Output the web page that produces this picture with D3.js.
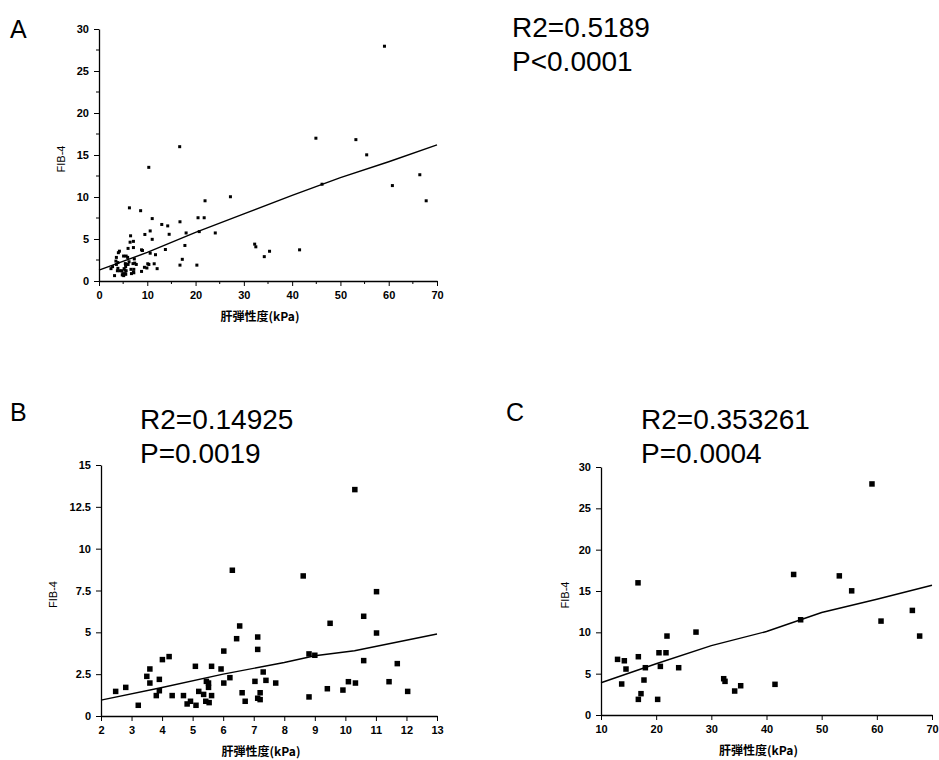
<!DOCTYPE html>
<html>
<head>
<meta charset="utf-8">
<script src="https://cdn.jsdelivr.net/npm/d3@7"></script>
<style>
    body { margin: 0; background: #fff; }
    text { font-family: "Liberation Sans", Arial, sans-serif; }
    .tick text { font-size: 11px; font-weight: bold; }
    .cjk { font-family: "Noto Sans CJK JP", sans-serif; font-size: 12px; font-weight: bold; }
</style>
</head>
<body>
<div class="container"></div>
<script>
// panel B: low stiffness group
const bKpa = [2.48, 2.81, 3.22, 3.50, 3.60, 3.60, 3.81, 3.91, 3.91, 4.01, 4.23, 4.33, 4.70, 4.82, 4.93,
    5.09, 5.11, 5.20, 5.36, 5.43, 5.45, 5.52, 5.52, 5.54, 5.62, 5.62, 5.93, 6.02, 6.02, 6.22,
    6.30, 6.44, 6.54, 6.62, 6.72, 7.04, 7.13, 7.13, 7.13, 7.21, 7.21, 7.31, 7.40, 7.72, 8.62,
    8.81, 8.81, 9.00, 9.41, 9.50, 9.92, 10.10, 10.31, 10.33, 10.60, 10.60, 11.02, 11.02, 11.43, 11.70, 12.04]
const bFib4 = [1.47, 1.71, 0.64, 2.37, 2.81, 1.97, 1.22, 2.19, 1.51, 3.37, 3.55, 1.22, 1.22, 0.72, 0.88,
    2.97, 0.64, 1.47, 1.29, 0.88, 2.07, 1.97, 1.71, 0.80, 1.22, 2.97, 2.81, 3.88, 1.97, 2.29,
    8.71, 4.62, 5.38, 1.39, 0.88, 2.07, 4.72, 3.98, 1.06, 1.39, 0.98, 2.63, 2.13, 1.97, 8.37,
    3.71, 1.14, 3.63, 1.63, 5.54, 1.55, 2.05, 13.53, 1.97, 5.96, 3.31, 7.43, 4.96, 2.05, 3.13, 1.47]

// panel C: high stiffness group
const cKpa = [13.0, 13.75, 14.23, 14.53, 16.71, 16.77, 16.77, 17.25, 17.79, 18.04, 20.27, 20.51, 20.76,
    21.78, 21.96, 24.08, 27.22, 32.24, 32.48, 34.23, 35.32, 41.54, 44.92, 46.19, 53.2, 55.44,
    59.12, 60.76, 66.44, 67.76]
const cFib4 = [6.73, 3.75, 6.56, 5.56, 15.99, 7.05, 1.89, 2.58, 4.23, 5.72, 1.89, 7.53, 5.88,
    7.53, 9.55, 5.72, 10.03, 4.39, 4.07, 2.90, 3.54, 3.71, 17.0, 11.52, 16.83, 15.02,
    27.95, 11.36, 12.65, 9.55]

// fitted curves
const aLineX = [0, 10, 20, 30, 40, 50, 60, 70]
const aLineY = [1.3, 3.4, 5.8, 8.0, 10.2, 12.3, 14.2, 16.2]
const bLineX = [2, 4, 6, 8, 9, 10.3, 13]
const bLineY = [0.95, 1.7, 2.5, 3.2, 3.6, 3.9, 4.9]
const cLineX = [10, 20, 30, 40, 50, 60, 70]
const cLineY = [3.9, 6.2, 8.4, 10.1, 12.4, 14.0, 15.7]

const panelLetters = ["A", "B", "C"]
const statLines = [["R2=0.5189", "P<0.0001"], ["R2=0.14925", "P=0.0019"], ["R2=0.353261", "P=0.0004"]]
const xTitle = "肝弾性度(kPa)"
const yTitle = "FIB-4"

const svg = d3.select(".container")
    .append("svg")
    .attr("width", 939)
    .attr("height", 760)

svg.append("rect").attr("width", 939).attr("height", 760).attr("fill", "white")

const panels = [
    {
        xs: bKpa.concat(cKpa), ys: bFib4.concat(cFib4), lx: aLineX, ly: aLineY,
        left: 99, right: 437, top: 29, bottom: 281,
        xDomain: [0, 70], yDomain: [0, 30], xTicks: d3.range(0, 71, 10), yTicks: d3.range(0, 31, 5),
        xMinor: d3.range(5, 70, 10), yMinor: d3.range(2.5, 30, 5), mark: 3,
        letter: [10, 38], stat: [512, 37], yLab: 61
    },
    {
        xs: bKpa, ys: bFib4, lx: bLineX, ly: bLineY,
        left: 101, right: 437, top: 465, bottom: 716,
        xDomain: [2, 13], yDomain: [0, 15], xTicks: d3.range(2, 14, 1), yTicks: d3.range(0, 15.1, 2.5),
        xMinor: [], yMinor: [], mark: 5.5,
        letter: [10, 421], stat: [140, 429], yLab: 53
    },
    {
        xs: cKpa, ys: cFib4, lx: cLineX, ly: cLineY,
        left: 601, right: 932, top: 467, bottom: 715,
        xDomain: [10, 70], yDomain: [0, 30], xTicks: d3.range(10, 71, 10), yTicks: d3.range(0, 31, 5),
        xMinor: [], yMinor: [], mark: 5.5,
        letter: [506, 421], stat: [641, 429], yLab: 565
    }
]

panels.forEach((p, i) => {
    const x = d3.scaleLinear().domain(p.xDomain).range([p.left, p.right])
    const y = d3.scaleLinear().domain(p.yDomain).range([p.bottom, p.top])

    const g = svg.append("g")

    // axes
    g.append("g")
        .attr("transform", `translate(0, ${p.bottom})`)
        .call(d3.axisBottom(x).tickValues(p.xTicks).tickSize(5).tickPadding(5).tickSizeOuter(0)
            .tickFormat(d3.format("~g")))
    g.append("g")
        .attr("transform", `translate(${p.left}, 0)`)
        .call(d3.axisLeft(y).tickValues(p.yTicks).tickSize(5).tickPadding(5).tickSizeOuter(0)
            .tickFormat(d3.format("~g")))

    g.selectAll(".domain").attr("stroke-width", 1.3)

    // minor ticks
    g.selectAll(".xminor")
        .data(p.xMinor)
        .join("line")
        .attr("x1", d => x(d)).attr("x2", d => x(d))
        .attr("y1", p.bottom).attr("y2", p.bottom + 3)
        .attr("stroke", "black")
    g.selectAll(".yminor")
        .data(p.yMinor)
        .join("line")
        .attr("x1", p.left - 3).attr("x2", p.left)
        .attr("y1", d => y(d)).attr("y2", d => y(d))
        .attr("stroke", "black")

    // axis titles
    g.append("text")
        .attr("class", "cjk")
        .attr("x", (p.left + p.right) / 2 - 8)
        .attr("y", p.bottom + 40)
        .attr("text-anchor", "middle")
        .text(xTitle)
    g.append("text")
        .attr("transform", `translate(${p.yLab}, ${(p.top + p.bottom) / 2 + 4}) rotate(-90)`)
        .attr("text-anchor", "middle")
        .attr("dy", "0.35em")
        .attr("font-size", 11)
        .text(yTitle)

    // fitted line
    const line = d3.line().x(d => x(d[0])).y(d => y(d[1]))
    g.append("path")
        .datum(d3.zip(p.lx, p.ly))
        .attr("d", line)
        .attr("fill", "none")
        .attr("stroke", "black")
        .attr("stroke-width", 1.4)

    // points
    g.selectAll("rect.pt")
        .data(d3.zip(p.xs, p.ys))
        .join("rect")
        .attr("class", "pt")
        .attr("x", d => x(d[0]) - p.mark / 2)
        .attr("y", d => y(d[1]) - p.mark / 2)
        .attr("width", p.mark)
        .attr("height", p.mark)
        .attr("fill", "black")

    // panel letter and stats
    svg.append("text")
        .attr("x", p.letter[0])
        .attr("y", p.letter[1])
        .attr("font-size", 25)
        .text(panelLetters[i])
    svg.selectAll(null)
        .data(statLines[i])
        .join("text")
        .attr("x", p.stat[0])
        .attr("y", (d, j) => p.stat[1] + j * 33.5)
        .attr("font-size", 28)
        .text(d => d)
})
</script>
</body>
</html>
